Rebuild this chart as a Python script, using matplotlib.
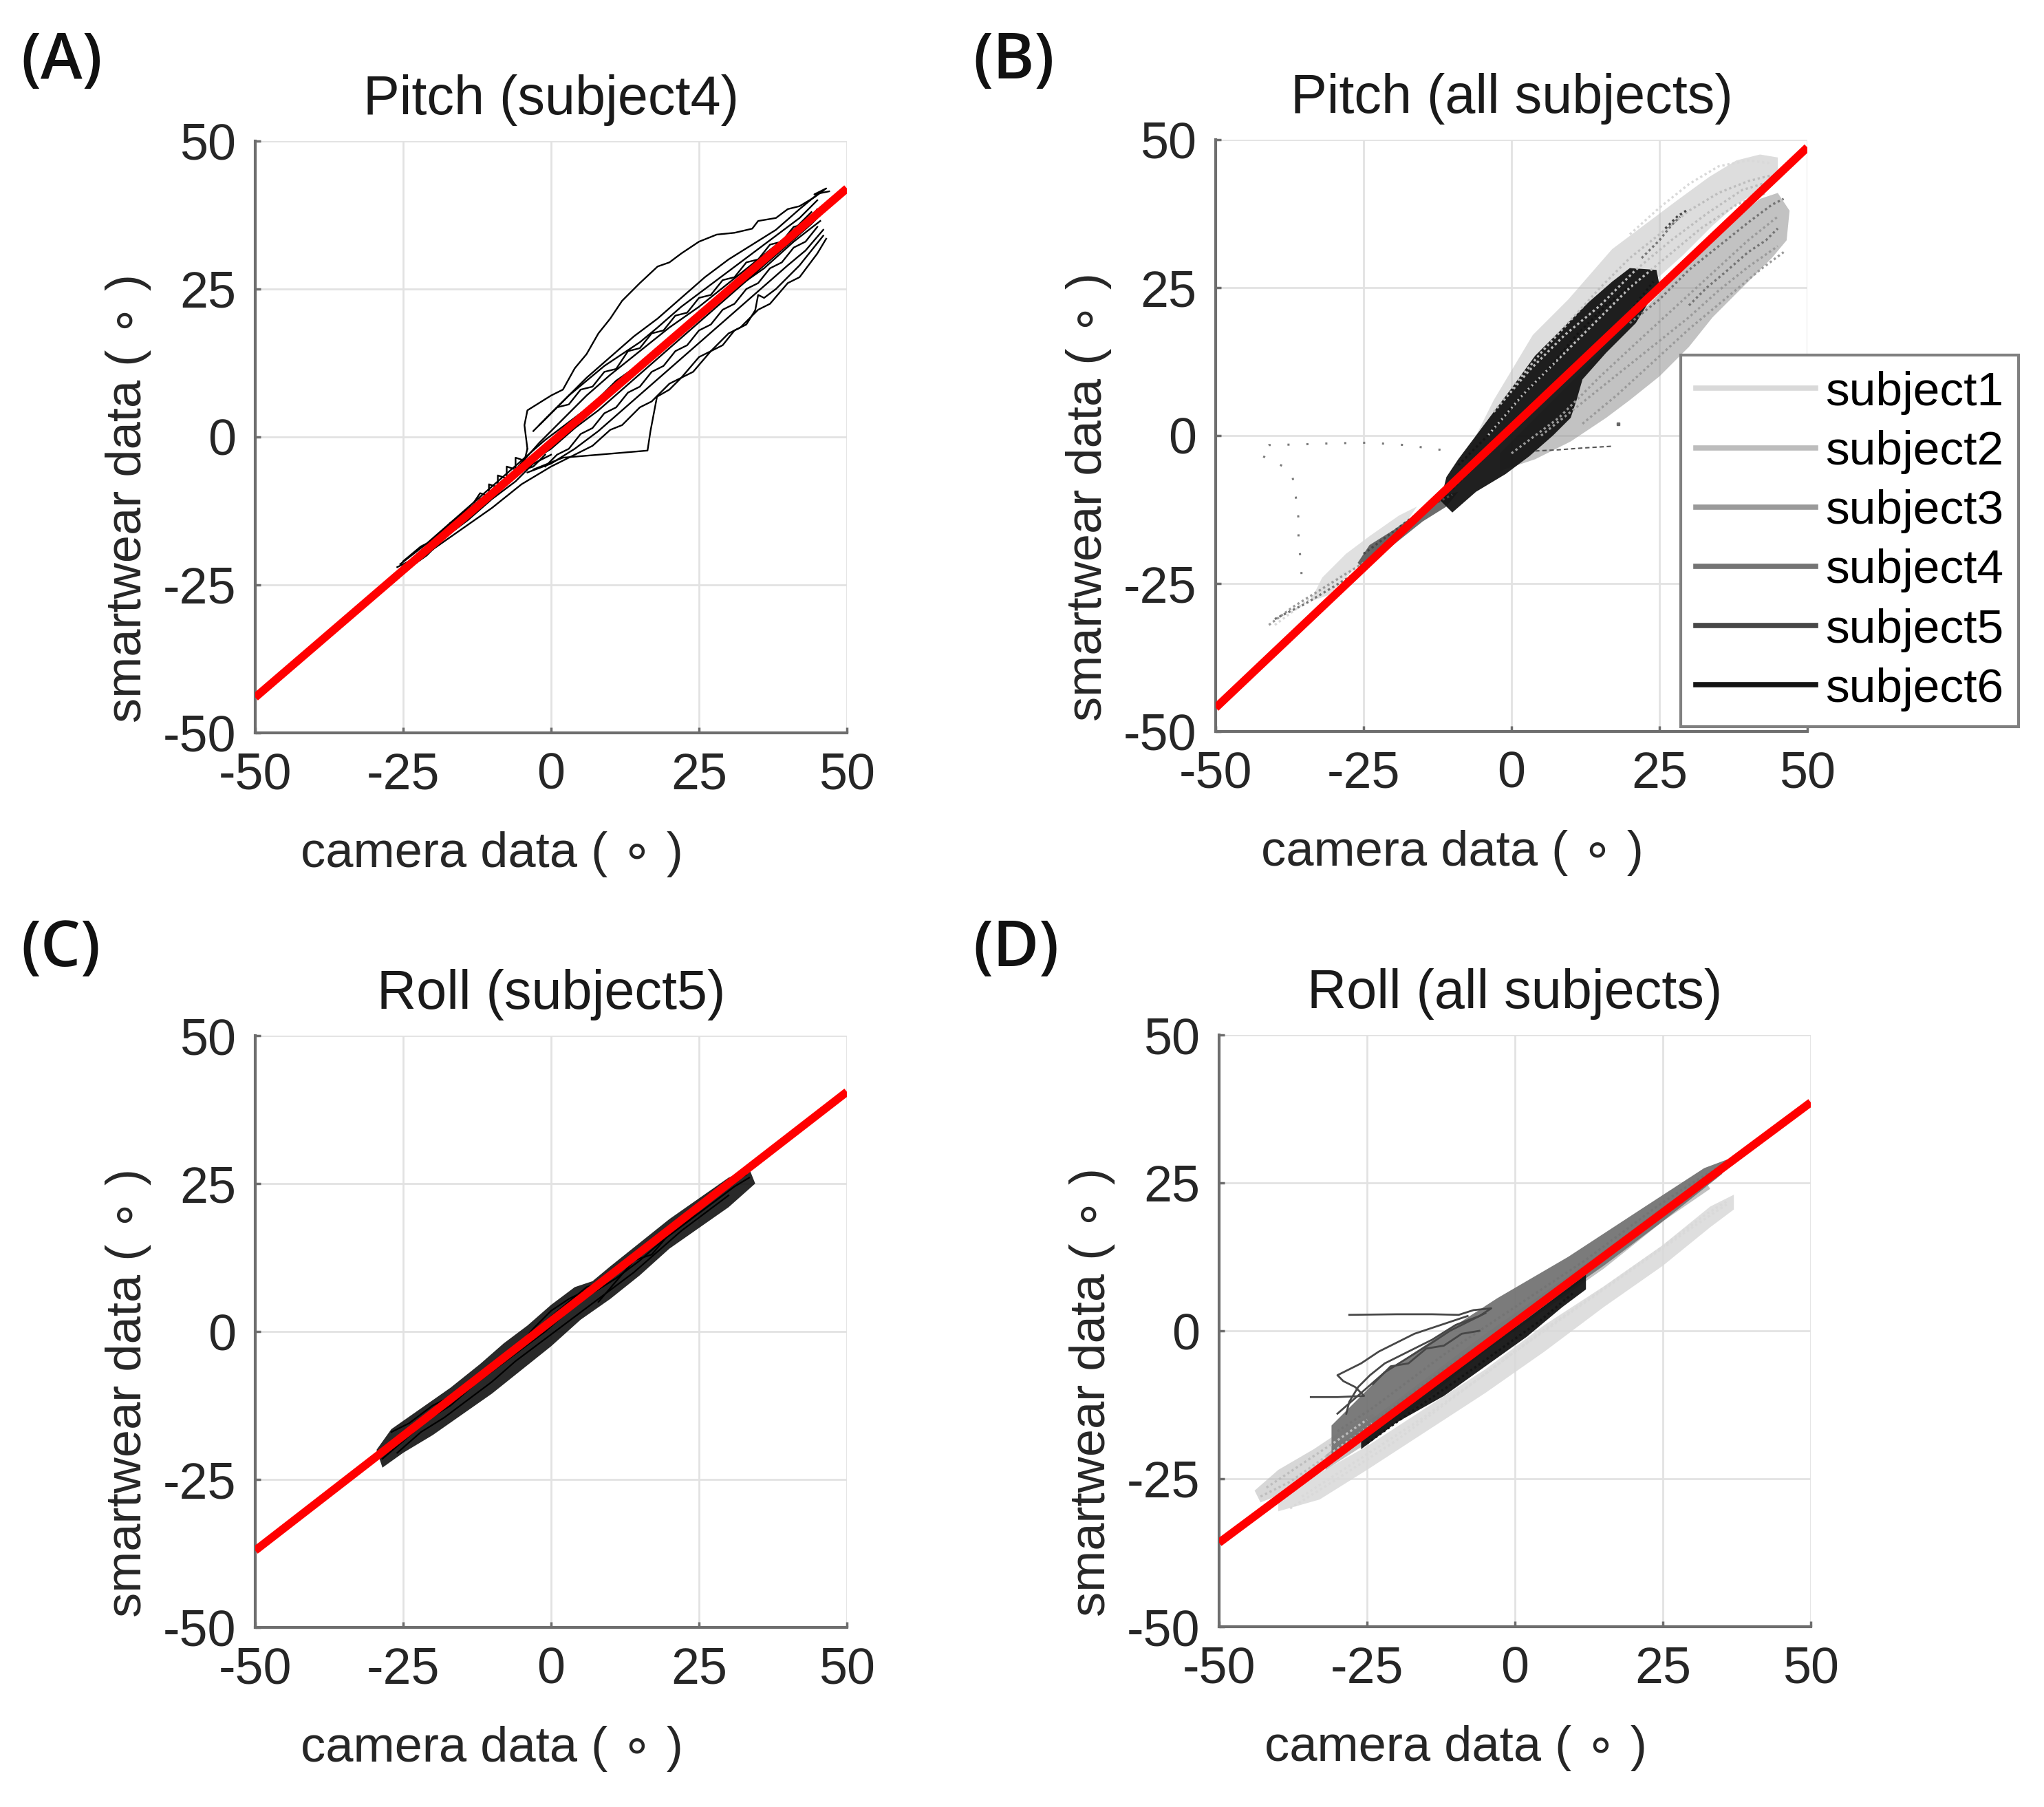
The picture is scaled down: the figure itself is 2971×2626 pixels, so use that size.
import matplotlib
matplotlib.use('Agg')
import matplotlib.pyplot as plt
from matplotlib.lines import Line2D
import numpy as np

plt.rcParams['font.family'] = ['Liberation Sans', 'DejaVu Sans']
plt.rcParams['axes.unicode_minus'] = False

# ---------------- data ----------------
ticks = [-50, -25, 0, 25, 50]
subjects = ['subject1', 'subject2', 'subject3', 'subject4', 'subject5', 'subject6']
titles = ['Pitch (subject4)', 'Pitch (all subjects)', 'Roll (subject5)', 'Roll (all subjects)']
tags = ['(A)', '(B)', '(C)', '(D)']

# fitted lines (slope, intercept) per panel
fits = [(0.86, -1.0), (0.947, 1.35), (0.775, 1.75), (0.744, 1.4)]

# (A) pitch, subject4 : recorded traces (camera, smartwear)
pitch4_traces = [
    [(-4, -2), (-4.5, 2), (-4, 4.5), (0, 7), (2, 8), (4, 11.6), (6, 14), (8, 17.5), (10, 20), (12, 23),
     (15, 26), (18, 28.8), (20, 29.5), (22, 31), (25, 33), (28, 34.2), (31, 34.5), (34, 35.2), (35, 36.5),
     (38, 37), (40, 38.5), (42, 39), (44.5, 40.5), (46.5, 42), (44.5, 41), (47, 41.5)],
    [(-3, -5.5), (2, -3.5), (8, -3), (16.3, -2.3), (16.8, 1), (17.9, 6.8), (20, 8), (22, 10), (24, 11),
     (27, 14.5), (29, 15.5), (31, 18), (33, 19), (34.5, 21.4), (35, 24), (36, 23.5), (38, 25), (40, 27),
     (42, 29), (44, 31.5), (46, 34)],
    [(-25, -22.5), (-20, -19), (-15, -15.5), (-10, -12), (-5, -8), (0, -5), (5, -2.5), (7, -1.5), (10, 1.2),
     (12, 2), (15, 5), (17, 6), (20, 9), (22, 10), (25, 13.5), (27, 14.5), (30, 17.5), (32, 18.5), (35, 21.5),
     (37, 22.5), (40, 26), (42, 27), (45, 31), (46.5, 33.5)],
    [(-24, -21), (-20, -17.5), (-15, -13), (-10, -9), (-6, -5.5), (-2, -1), (2, 3), (6, 7), (10, 10.5),
     (15, 14.5), (20, 18.5), (25, 22), (30, 26), (35, 30), (40, 34), (44, 38)],
    [(-22, -19.5), (-17, -15.5), (-12, -11.5), (-8, -8), (-4, -4.5), (0, -2), (4, 1.5), (8, 4.5), (12, 8),
     (16, 11.5), (20, 15), (24, 18.5), (28, 22), (32, 25.5), (36, 29), (40, 32.5), (44, 36), (46, 38)],
    [(-3, 1), (0, 4), (3, 7), (6, 9.5), (9, 12), (12, 14), (15, 16), (18, 18.5), (22, 22), (26, 25),
     (30, 28), (34, 31), (38, 34), (42, 37), (45, 40)],
    [(46, 35), (43, 31.5), (40, 29), (36, 25.5), (32, 22), (28, 18.5), (24, 15), (20, 11.5), (16, 8),
     (12, 4.5), (8, 1), (4, -2), (0, -4.5), (-4, -6)],
    [(44, 37), (40, 33), (35, 29.5), (30, 25), (26, 21.5), (22, 18.5), (18, 15), (14, 11), (10, 7.5),
     (6, 4.5), (2, 1), (-2, -3), (-6, -6.5), (-10, -9.5), (-15, -13.5)],
    [(-13, -11), (-12, -9.5), (-10.5, -10), (-10.5, -8), (-9, -8.5), (-9, -6.5), (-7.5, -7), (-7.5, -5),
     (-6, -5.5), (-6, -3.5), (-4.5, -4), (-4, -2)],
    [(-25.5, -21.5), (-21, -18), (-17, -14.5), (-13, -11), (-9, -7.5), (-5, -4), (-1, -0.5), (3, 2.5),
     (7, 5.5), (11, 9.5), (16, 13), (21, 17), (26, 21.5), (31, 25), (36, 28.5), (41, 33), (45.5, 36.5)],
    [(-2, 2), (2, 6), (6, 10), (10, 13.5), (14, 17), (18, 20), (22, 23.5), (26, 27), (30, 30), (34, 32.5),
     (38, 35), (42, 38.5), (45, 41)],
    [(-1, 3), (1, 5), (3, 5.5), (5, 8), (7, 8.5), (9, 11), (11, 11.5), (13, 14.5), (15, 15), (17, 17.5),
     (19, 18), (21, 20.5), (23, 21), (25, 23.5), (27, 24), (29, 26.5), (31, 27), (33, 29.5), (35, 30),
     (37, 32.5), (39, 33), (41, 35.5), (43, 36), (45, 38.5)],
    [(45, 35.5), (43, 33), (41, 32), (39, 29.5), (37, 28.5), (35, 26), (33, 25), (31, 22.5), (29, 21.5),
     (27, 19), (25, 18), (23, 15.5), (21, 14.5), (19, 12), (17, 11), (15, 8.5), (13, 7.5), (11, 5),
     (9, 4), (7, 1.5), (5, 0.5), (3, -2), (1, -3), (-1, -5)],
    [(-26, -22), (-23, -20.5), (-21, -18.5), (-18, -16.5), (-16, -14), (-13, -12.5), (-11, -10),
     (-8, -8.5), (-6, -6), (-3, -5), (-1, -3)],
    [(-25, -21), (-22, -18.5), (-20, -17.5), (-17, -14.5), (-15, -13.5), (-12, -10.5), (-10, -9.5),
     (-7, -6.5), (-5, -5.5), (-2, -2.5)],
    [(-24.5, -22.5), (-21, -20), (-18, -17), (-14, -14), (-10, -10.5), (-6, -7.5), (-3, -4.5), (0, -3)],
]

# (B) pitch, all subjects : outline of each subject's point cloud
pitch_clouds = [
    [(-34, -28), (-32, -24), (-28, -20), (-24, -17), (-19, -13.5), (-16, -12), (-18, -15), (-22, -19),
     (-27, -23), (-31, -27)],
    [(-8, -4), (-5, 2), (-3, 6), (0, 11), (3.6, 17), (9.6, 23), (17, 31.5), (23, 36), (27.8, 39.6),
     (33.4, 43.7), (38, 46.5), (42, 47.5), (45, 47), (45, 44), (42, 41.5), (38, 39), (34, 35.5), (29, 30.5),
     (24, 26), (20, 21.5), (14, 15.5), (8, 9.5), (3, 4), (-2, -1), (-6, -5)],
    [(-2, -6), (4, -4), (10, -1), (16, 3), (20, 6), (25, 10), (30, 15), (34, 20), (40, 26), (44, 30),
     (46.5, 33), (47, 38), (45, 41), (42, 40), (37, 36), (32, 31), (27, 26), (22, 21), (17, 16), (12, 11),
     (7, 6), (2, 1), (-2, -3)],
    [],
    [(-26, -21.5), (-24, -18.5), (-20, -16), (-15, -12.5), (-11, -10), (-9, -9.5), (-11, -12), (-15, -14.5),
     (-20, -18.5), (-25, -22.5)],
    [(-12, -11), (-11, -7), (-9, -4), (-6, 0), (-3, 4), (0, 8), (4, 13.5), (8, 17.5), (13, 22.5), (17, 26),
     (20, 28.3), (24.5, 28), (25, 25.5), (21, 19), (16, 14), (12, 9.5), (11, 6), (10, 3), (7, 0), (3, -3.5),
     (-1, -6.5), (-6, -9.5), (-10, -13)],
]
pitch_dots = [
    [[(20, 34), (25, 38.5), (30, 42.5), (35, 45.5), (40, 46.5), (44, 46)],
     [(-40, -32), (-36, -29), (-32, -26), (-28, -23)]],
    [[(0, 8), (5, 14), (10, 19.5), (15, 25), (20, 30), (25, 34), (30, 38), (35, 41), (40, 43), (44, 44)],
     [(-4, 0), (2, 7), (8, 13), (14, 19), (20, 25), (26, 30), (32, 35), (38, 39), (43, 41)],
     [(-3, 4), (3, 11), (9, 17), (15, 22), (21, 28), (27, 33), (33, 37.5), (39, 41.5), (44, 43)]],
    [[(5, 0), (10, 4), (15, 8), (20, 12), (25, 16), (30, 20), (35, 24.5), (40, 28.5), (45, 32)],
     [(0, -3), (8, 3), (15, 10), (22, 16.5), (28, 22), (34, 27.5), (40, 33), (45, 37)],
     [(12, 2), (18, 7), (24, 12.5), (30, 18), (36, 23), (42, 28), (46, 31)],
     [(-41, -32), (-37, -29), (-33, -26.5), (-29, -24), (-25, -21.5)]],
    [[(20, 19), (25, 23), (30, 28), (35, 32), (40, 36), (44, 39), (46, 40)],
     [(30, 22), (33, 25), (36, 27.5), (40, 31), (43, 33), (45, 35)],
     [(22, 30), (25, 33), (27, 35.5), (28.5, 37)],
     [(-40, -31), (-35, -28.5), (-30, -25.5), (-26, -23)]],
    [[(-25, -20), (-21, -17), (-17, -14), (-13, -11.5), (-10, -10)],
     [(26, 35), (28, 37), (29.5, 38)]],
    [[(-10, -9), (-5, -4), (0, 1), (5, 6), (10, 11), (15, 16), (20, 21), (24, 26)],
     [(-9, -5), (-4, 0), (1, 6), (6, 11), (11, 17), (16, 22), (21, 26)]],
]
pitch_stray = [(-12, -2.4), (-18, -1.6), (-24, -1.2), (-30, -1.3), (-36, -1.5), (-41, -1.6), (-42.5, -2.5),
               (-42, -3.5), (-40, -4.5), (-38, -5.5), (-37, -7), (-36.5, -10), (-36, -14), (-36, -18),
               (-35.5, -22), (-35.5, -26)]
pitch_stray2 = [(4, -2.6), (8, -2.4), (12, -2.1), (17, -1.8)]
pitch_lone = [(18, 2)]

# (C) roll, subject5
roll5_band = [(-29.5, -20), (-27, -16.5), (-22, -13), (-17, -9.5), (-12, -5.5), (-8, -2), (-4, 1), (0, 4.5),
              (4, 7.5), (7, 8.5), (10, 11), (15, 15), (20, 19), (25, 22.5), (30, 26), (33.5, 27.5),
              (34.5, 25), (30, 21), (25, 17.5), (20, 14), (15, 9.5), (10, 5.5), (5, 2), (0, -2.5),
              (-5, -6.5), (-10, -10.5), (-15, -14), (-20, -17.5), (-25, -20.5), (-28.5, -23)]
roll5_traces = [
    [(-28.5, -21.5), (-25, -18.5), (-21, -15), (-17, -12.5), (-13, -9), (-9, -6), (-5, -3), (-1, 0),
     (3, 3.5), (7, 6.5), (11, 9), (15, 12), (19, 15.5), (23, 18.5), (27, 21.5), (31, 24.5), (33.5, 26)],
    [(-28, -19.5), (-24, -16.5), (-20, -13.5), (-16, -11), (-12, -7.5), (-8, -4), (-4, -1), (0, 2.5),
     (3, 5), (6, 7.5), (9, 8.5), (13, 11.5), (17, 15), (21, 18), (25, 21.5), (29, 24), (32, 26.5)],
    [(-26, -20.5), (-22, -17), (-18, -14.5), (-14, -11.5), (-10, -8.5), (-6, -5), (-2, -2), (2, 1),
     (6, 4), (10, 7), (14, 10), (18, 13.5), (22, 17), (26, 20), (30, 23)],
    [(-27, -17), (-24, -15.5), (-20, -12.5), (-18, -11.5), (-15, -10), (-12, -8), (-10, -5.5), (-6, -3),
     (-3, 0.5), (0, 3.5), (3, 5.5), (5, 6.5), (7, 7.5)],
    [(8, 5), (11, 8.5), (14, 12), (17, 13), (20, 16.5), (24, 19.5), (27, 22.5), (29, 24.5), (31, 25.5),
     (33, 26.5)],
]

# (D) roll, all subjects
roll_clouds = [
    [(-40, -28), (-33, -24), (-25, -19.5), (-15, -13), (-5, -6.5), (5, 1), (15, 7.5), (25, 14.5),
     (33, 21), (37, 23), (37, 20.5), (33, 17.5), (25, 11), (15, 4), (5, -3.5), (-5, -10.5), (-15, -17),
     (-25, -23.5), (-33, -28.5), (-40, -30.5)],
    [(-44, -27), (-40, -23.5), (-34, -20), (-28, -16), (-24, -14), (-22, -16), (-27, -19.5), (-33, -23),
     (-38, -27), (-43, -29)],
    [(-32, -21), (-25, -15.5), (-15, -8), (-5, -0.5), (5, 6.5), (15, 13.5), (25, 21), (32, 25.5),
     (33, 24), (25, 18.5), (15, 10.5), (5, 3.5), (-5, -3.5), (-15, -11.5), (-25, -19), (-32, -23.5)],
    [(-31, -16), (-27, -12), (-22, -7), (-13, -1), (-3, 5.5), (9, 12.5), (22, 21), (32, 27.5), (36, 29),
     (35, 26.5), (25, 18.5), (15, 11), (5, 4), (-5, -3), (-15, -10), (-25, -17.5), (-31, -21)],
    [],
    [(-26, -18), (-20, -13.5), (-12, -8), (-5, -3), (2, 2), (8, 6.5), (12, 9.5), (12, 7), (8, 4),
     (2, -1), (-5, -6), (-12, -11), (-20, -15.5), (-26, -20)],
]
roll_dots = [
    [[(-38, -30), (-30, -25), (-20, -18.5), (-10, -11), (0, -3.5), (10, 3.5), (20, 10.5), (30, 17.5), (36, 21.5)],
     [(-36, -28), (-26, -21.5), (-16, -15), (-6, -8), (4, -0.5), (14, 6.5), (24, 13.5), (32, 19.5), (36, 22)]],
    [[(-43, -28), (-38, -25.5), (-33, -22), (-28, -18.5), (-24, -15.5)],
     [(-42, -26.5), (-36, -22.5), (-30, -18.5), (-25, -15)]],
    [[(-30, -21.5), (-20, -14), (-10, -6.5), (0, 1), (10, 8.5), (20, 16), (30, 23.5)]],
    [[(-30, -17), (-24, -13), (-18, -8.5), (-12, -4), (-6, 0), (0, 4), (6, 8), (12, 12), (18, 16.5),
      (24, 21), (30, 25), (35, 28)],
     [(-28, -18.5), (-20, -12.5), (-12, -6.5), (-4, -1), (4, 5), (12, 10.5), (20, 16), (28, 21.5), (34, 26)]],
    [],
    [[(-25, -19), (-18, -14), (-10, -8.5), (-3, -3.5), (4, 1.5), (10, 6.5)]],
]
roll_loops = [
    [(-28, 2.7), (-20, 2.8), (-14, 2.8), (-9.5, 2.7), (-7, 3.5), (-4, 3.8), (-6, 2.5), (-10, 1.0),
     (-14, -1.5), (-18, -3.5), (-22, -5.5), (-24.5, -7.5), (-26.5, -9.5), (-28, -12), (-28.5, -14)],
    [(-34.5, -11.2), (-30, -11.2), (-25.5, -11), (-27, -9.5), (-29, -8.5), (-30, -7.5), (-28, -6.5),
     (-26, -5.5), (-23, -3.5), (-20, -2), (-17, -0.5), (-14, 0.5), (-11, 1.5), (-8, 2.5)],
    [(-30, -14), (-26, -10.5), (-22, -7), (-18, -4.5), (-14, -2), (-11, 0), (-8, 1.5), (-5, 3)],
    [(-24, -9), (-21, -6), (-18, -5.5), (-15, -3), (-12, -2.5), (-9, -0.5), (-6, 0)],
]

# ---------------- styles / layout ----------------
grays = ['#d9d9d9', '#bdbdbd', '#9a9a9a', '#747474', '#474747', '#141414']
pitch_alpha = [0.8, 0.5, 0.6, 0.8, 0.8, 0.95]
roll_alpha = [0.85, 0.6, 0.6, 0.95, 0.8, 0.95]
W, H = 2971, 2626
size = 860
boxes = [(371, 205), (1767, 203), (371, 1505), (1772, 1504)]
tag_pos = [(30, 44), (1414, 44), (30, 1334), (1414, 1334)]


def xy(pts):
    return [p[0] for p in pts], [p[1] for p in pts]


fig = plt.figure(figsize=(W / 100, H / 100), dpi=100)
axes = []
for (l, t), title in zip(boxes, titles):
    ax = fig.add_axes([l / W, 1 - (t + size) / H, size / W, size / H])
    ax.set_xlim(-50, 50)
    ax.set_ylim(-50, 50)
    ax.set_xticks(ticks)
    ax.set_yticks(ticks)
    ax.grid(True, color='#e2e2e2', lw=2)
    ax.set_axisbelow(True)
    for s in ['top', 'right']:
        ax.spines[s].set_visible(False)
    for s in ['left', 'bottom']:
        ax.spines[s].set_color('#6e6e6e')
        ax.spines[s].set_linewidth(3)
    ax.tick_params(direction='in', length=6, width=2.5, color='#6e6e6e',
                   labelsize=53, labelcolor='#262626', pad=20)
    ax.set_title(title, fontsize=57, pad=28, color='#1a1a1a')
    ax.text(0.40, -0.205, 'camera data ( \u2218 )', transform=ax.transAxes, ha='center', va='center',
            fontsize=52, color='#262626')
    ax.text(-0.215, 0.396, 'smartwear data ( \u2218 )', transform=ax.transAxes, ha='center', va='center',
            rotation=90, fontsize=52, color='#262626')
    axes.append(ax)

for (x, y), tag in zip(tag_pos, tags):
    fig.text(x / W, 1 - y / H, tag, ha='left', va='top', fontsize=66, family=['Open Sans', 'DejaVu Sans'],
             weight='semibold', color='#111111')

# (A)
ax = axes[0]
for tr in pitch4_traces:
    tx, ty = xy(tr)
    ax.plot(tx, ty, color='black', lw=1.7)

# (B)
ax = axes[1]
for i in range(6):
    if pitch_clouds[i]:
        cx, cy = xy(pitch_clouds[i])
        ax.fill(cx, cy, color=grays[i], alpha=pitch_alpha[i], lw=0)
    for tr in pitch_dots[i]:
        tx, ty = xy(tr)
        ax.plot(tx, ty, color=grays[i], lw=2.4, ls=(0, (1, 1.2)))
sx, sy = xy(pitch_stray)
ax.plot(sx, sy, color='#7a7a7a', lw=2.2, ls=(0, (1, 8)))
sx, sy = xy(pitch_stray2)
ax.plot(sx, sy, color='#555555', lw=1.5, ls=(0, (3, 2)))
sx, sy = xy(pitch_lone)
ax.plot(sx, sy, 's', color='#666666', ms=2.5)

# (C)
ax = axes[2]
bx, by = xy(roll5_band)
ax.fill(bx, by, color='#111111', alpha=0.9, lw=0)
for tr in roll5_traces:
    tx, ty = xy(tr)
    ax.plot(tx, ty, color='black', lw=1.6)

# (D)
ax = axes[3]
for i in range(6):
    if roll_clouds[i]:
        cx, cy = xy(roll_clouds[i])
        ax.fill(cx, cy, color=grays[i], alpha=roll_alpha[i], lw=0)
    for tr in roll_dots[i]:
        tx, ty = xy(tr)
        ax.plot(tx, ty, color=grays[i], lw=2.4, ls=(0, (1, 1.2)))
    if i == 4:
        for tr in roll_loops:
            tx, ty = xy(tr)
            ax.plot(tx, ty, color=grays[4], lw=2.0)

# fit lines
line_x = np.array([-50.0, 50.0])
for ax, (k, b) in zip(axes, fits):
    ax.plot(line_x, k * line_x + b, color='#ff0000', lw=8.5, solid_capstyle='butt', zorder=10)

# legend in (B)
handles = [Line2D([], [], color=g, lw=5.5) for g in grays]
leg = axes[1].legend(handles, subjects, loc='lower left', bbox_to_anchor=(2443 / W, 1 - 1056 / H),
                     bbox_transform=fig.transFigure, borderaxespad=0, fontsize=50, handlelength=2.5,
                     handletextpad=0.2, labelspacing=0.32, borderpad=0.32, frameon=True,
                     fancybox=False, edgecolor='#808080', framealpha=1)
leg.get_frame().set_linewidth(3)
leg.set_zorder(20)

fig.savefig('out.png', dpi=100)
